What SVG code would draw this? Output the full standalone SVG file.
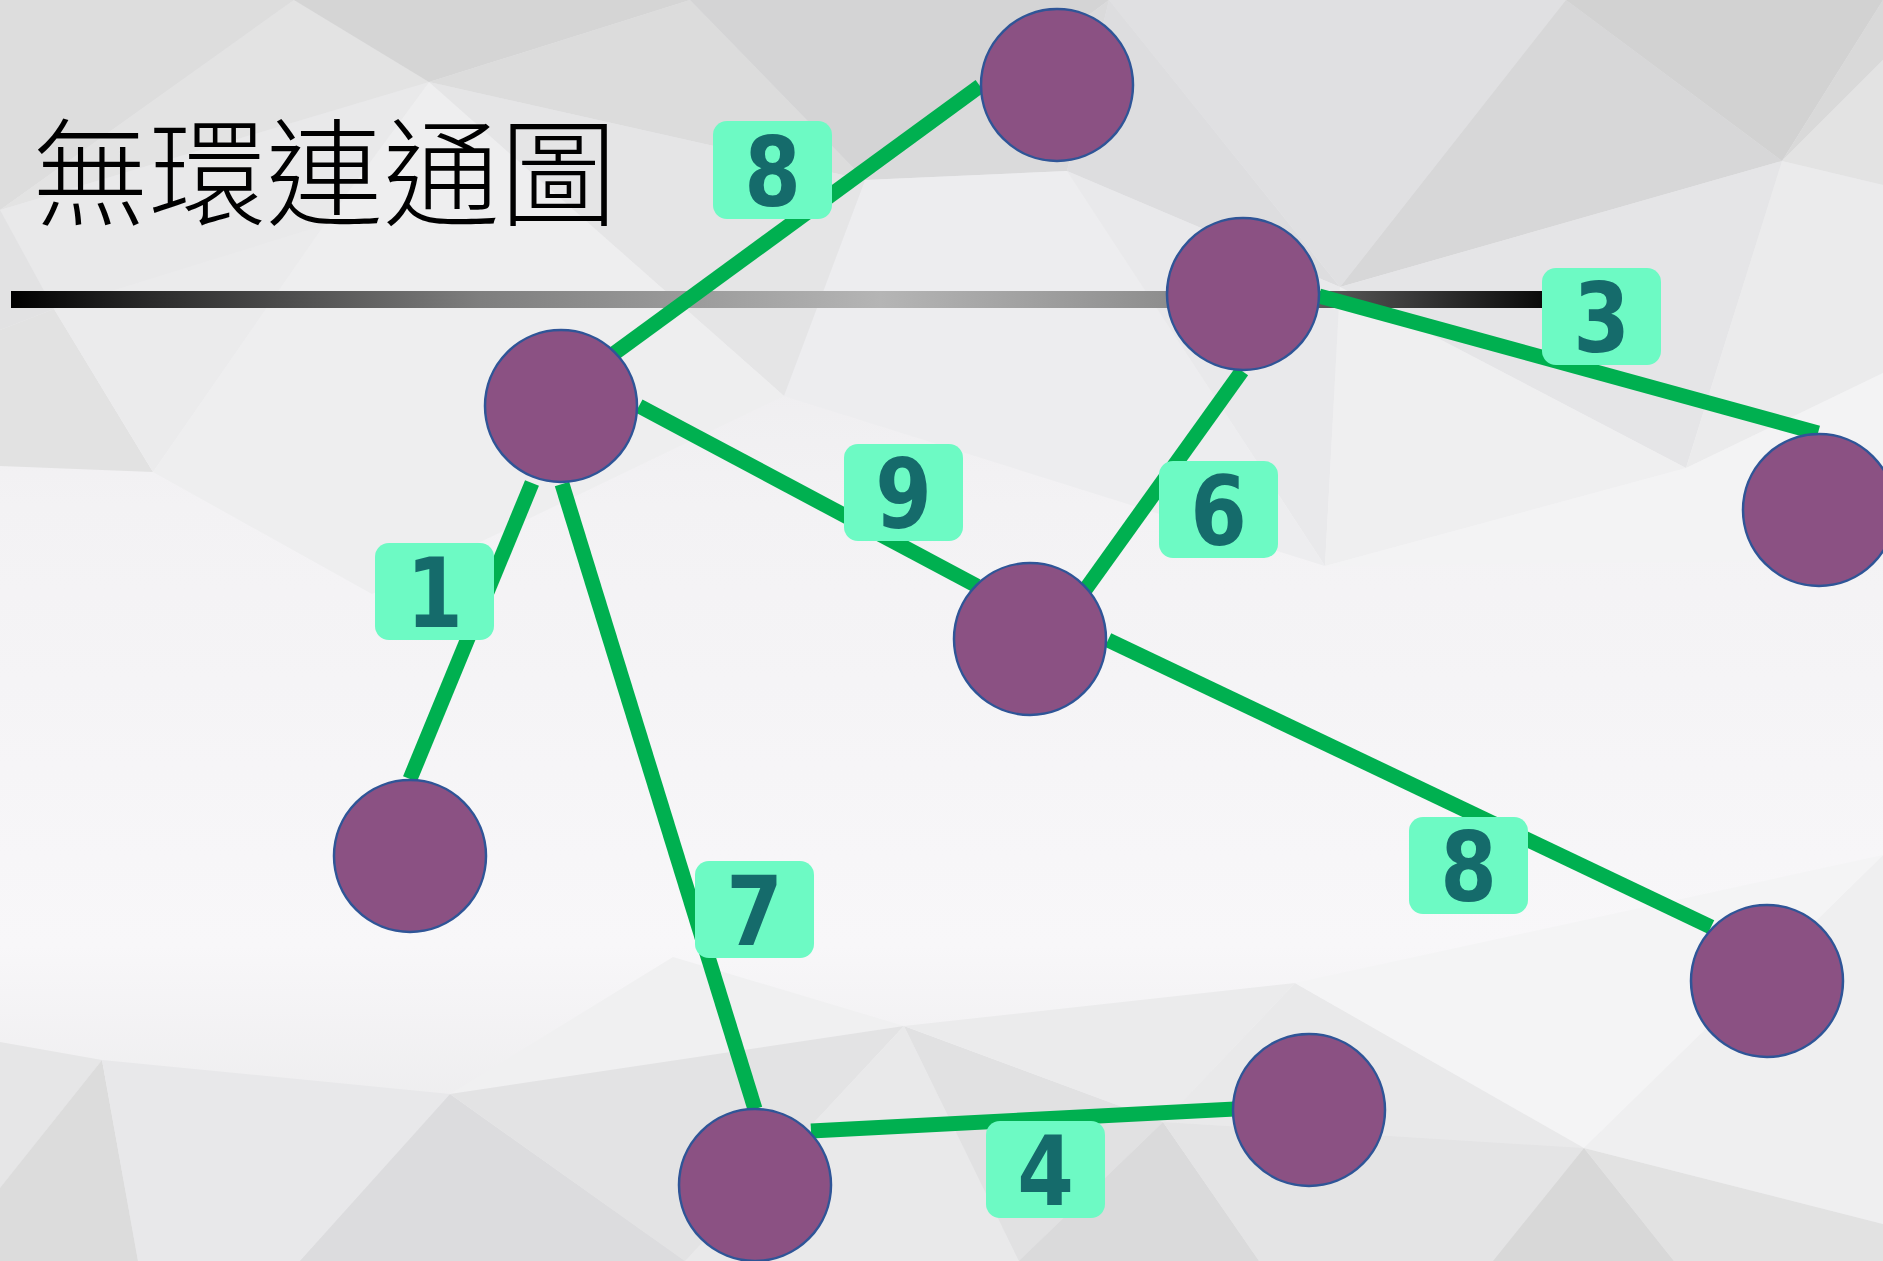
<svg xmlns="http://www.w3.org/2000/svg" width="1883" height="1261" viewBox="0 0 1883 1261">
<defs>
<linearGradient id="bar" gradientUnits="userSpaceOnUse" x1="11" y1="0" x2="1545" y2="0">
<stop offset="0" stop-color="#000000"/>
<stop offset="0.09" stop-color="#2A2A2A"/>
<stop offset="0.306" stop-color="#7E7E7E"/>
<stop offset="0.567" stop-color="#B5B5B5"/>
<stop offset="0.751" stop-color="#8E8E8E"/>
<stop offset="0.853" stop-color="#5A5A5A"/>
<stop offset="1" stop-color="#0A0A0A"/>
</linearGradient>
<linearGradient id="bgv" x1="0" y1="0" x2="0" y2="1">
<stop offset="0" stop-color="#E2E2E4"/>
<stop offset="0.4" stop-color="#F3F2F4"/>
<stop offset="0.75" stop-color="#F8F7F9"/>
<stop offset="1" stop-color="#E4E4E5"/>
</linearGradient>
</defs>
<style>
.node{fill:#8B5183;stroke:#2F5597;stroke-width:2.5}
.edge{stroke:#00B050;stroke-width:15;stroke-linecap:butt;fill:none}
.lbl rect{fill:#6DFAC4}
.lbl text{font-family:"DejaVu Sans",sans-serif;font-weight:bold;font-size:97px;fill:#156B6B;text-anchor:middle}
.title{font-family:"Noto Sans CJK TC","Noto Sans CJK SC",sans-serif;font-weight:300;font-size:117px;fill:#000}
</style>
<g id="background">
<rect x="0" y="0" width="1883" height="1261" fill="url(#bgv)"/>
<polygon points="0,0 294,0 0,210" fill="#DDDDDD"/>
<polygon points="294,0 429,82 0,210" fill="#E3E3E3"/>
<polygon points="294,0 690,0 429,82" fill="#D5D5D5"/>
<polygon points="690,0 865,180 429,82" fill="#DCDCDC"/>
<polygon points="690,0 1109,0 865,180" fill="#D4D4D5"/>
<polygon points="1109,0 1067,171 865,180" fill="#DADADB"/>
<polygon points="1109,0 1340,287 1067,171" fill="#DDDDDF"/>
<polygon points="1109,0 1566,0 1340,287" fill="#E0E0E2"/>
<polygon points="1566,0 1782,161 1340,287" fill="#D7D7D8"/>
<polygon points="1566,0 1883,0 1782,161" fill="#D2D2D2"/>
<polygon points="1883,0 1883,60 1782,161" fill="#D9D9D9"/>
<polygon points="1782,161 1883,60 1883,185" fill="#E3E3E3"/>
<polygon points="1340,287 1782,161 1686,468" fill="#E5E5E7"/>
<polygon points="1782,161 1883,185 1883,373 1686,468" fill="#EBEBEC"/>
<polygon points="1067,171 1340,287 1325,566" fill="#E9E9EB"/>
<polygon points="865,180 1067,171 1325,566 784,396" fill="#EDEDEF"/>
<polygon points="429,82 865,180 784,396" fill="#E5E5E6"/>
<polygon points="0,210 429,82 324,225 54,309" fill="#E9E9EA"/>
<polygon points="0,210 54,309 0,330" fill="#E2E2E3"/>
<polygon points="0,330 54,309 153,472 0,466" fill="#E2E2E2"/>
<polygon points="54,309 324,225 153,472" fill="#EBEBEC"/>
<polygon points="324,225 429,82 784,396 372,594 153,472" fill="#EEEEEF"/>
<polygon points="1325,566 1340,287 1686,468" fill="#EFEFF0"/>
<polygon points="1325,566 1686,468 1883,373 1883,560" fill="#F3F3F4"/>
<polygon points="0,1042 102,1060 0,1188" fill="#E6E6E7"/>
<polygon points="0,1188 102,1060 138,1261 0,1261" fill="#DCDCDC"/>
<polygon points="102,1060 450,1094 300,1261 138,1261" fill="#E8E8EA"/>
<polygon points="450,1094 685,1261 300,1261" fill="#DCDCDE"/>
<polygon points="450,1094 673,957 904,1026" fill="#F0F0F1"/>
<polygon points="450,1094 904,1026 685,1261" fill="#E3E3E4"/>
<polygon points="904,1026 1019,1261 685,1261" fill="#E9E9EA"/>
<polygon points="904,1026 1163,1122 1019,1261" fill="#E1E1E2"/>
<polygon points="1163,1122 1259,1261 1019,1261" fill="#DADADB"/>
<polygon points="904,1026 1295,983 1163,1122" fill="#EBEBEC"/>
<polygon points="1163,1122 1295,983 1584,1148" fill="#E9E9EA"/>
<polygon points="1163,1122 1584,1148 1493,1261 1259,1261" fill="#E4E4E5"/>
<polygon points="1584,1148 1674,1261 1493,1261" fill="#D8D8D8"/>
<polygon points="1584,1148 1883,1224 1883,1261 1674,1261" fill="#E2E2E2"/>
<polygon points="1584,1148 1883,855 1883,1224" fill="#EFEFF0"/>
<polygon points="1295,983 1883,855 1584,1148" fill="#F4F4F5"/>
</g>
<g id="title">
<text class="title" x="32" y="217">無環連通圖</text>
<rect x="11" y="291" width="1534" height="17" fill="url(#bar)"/>
</g>
<g id="connectors">
<line class="edge" x1="612" y1="355" x2="980" y2="86"/>
<line class="edge" x1="639" y1="406" x2="977" y2="586"/>
<line class="edge" x1="532" y1="483" x2="410" y2="779"/>
<line class="edge" x1="562" y1="484" x2="755" y2="1109"/>
<line class="edge" x1="1242" y1="371" x2="1085" y2="590"/>
<line class="edge" x1="1319" y1="296" x2="1818" y2="433"/>
<line class="edge" x1="1108" y1="640" x2="1711" y2="927"/>
<line class="edge" x1="811" y1="1131" x2="1235" y2="1109"/>
</g>
<g id="nodes">
<circle id="n1" class="node" cx="1057" cy="85" r="76"/>
<circle id="n2" class="node" cx="1243" cy="294" r="76"/>
<circle id="n3" class="node" cx="561" cy="406" r="76"/>
<circle id="n4" class="node" cx="1819" cy="510" r="76"/>
<circle id="n5" class="node" cx="1030" cy="639" r="76"/>
<circle id="n6" class="node" cx="410" cy="856" r="76"/>
<circle id="n7" class="node" cx="1767" cy="981" r="76"/>
<circle id="n8" class="node" cx="1309" cy="1110" r="76"/>
<circle id="n9" class="node" cx="755" cy="1185" r="76"/>
</g>
<g id="labels">
<g id="l8a" class="lbl"><rect x="713" y="121" width="119" height="98" rx="14"/><text transform="translate(772.5 206) scale(0.84 1)">8</text></g>
<g id="l9" class="lbl"><rect x="844" y="444" width="119" height="97" rx="14"/><text transform="translate(903.5 528) scale(0.84 1)">9</text></g>
<g id="l1" class="lbl"><rect x="375" y="543" width="119" height="97" rx="14"/><text transform="translate(434.5 627) scale(0.84 1)">1</text></g>
<g id="l6" class="lbl"><rect x="1159" y="461" width="119" height="97" rx="14"/><text transform="translate(1218.5 545) scale(0.84 1)">6</text></g>
<g id="l3" class="lbl"><rect x="1542" y="268" width="119" height="97" rx="14"/><text transform="translate(1601.5 352) scale(0.84 1)">3</text></g>
<g id="l7" class="lbl"><rect x="695" y="861" width="119" height="97" rx="14"/><text transform="translate(754.5 945) scale(0.84 1)">7</text></g>
<g id="l8b" class="lbl"><rect x="1409" y="817" width="119" height="97" rx="14"/><text transform="translate(1468.5 901) scale(0.84 1)">8</text></g>
<g id="l4" class="lbl"><rect x="986" y="1121" width="119" height="97" rx="14"/><text transform="translate(1045.5 1205) scale(0.84 1)">4</text></g>
</g>
</svg>
